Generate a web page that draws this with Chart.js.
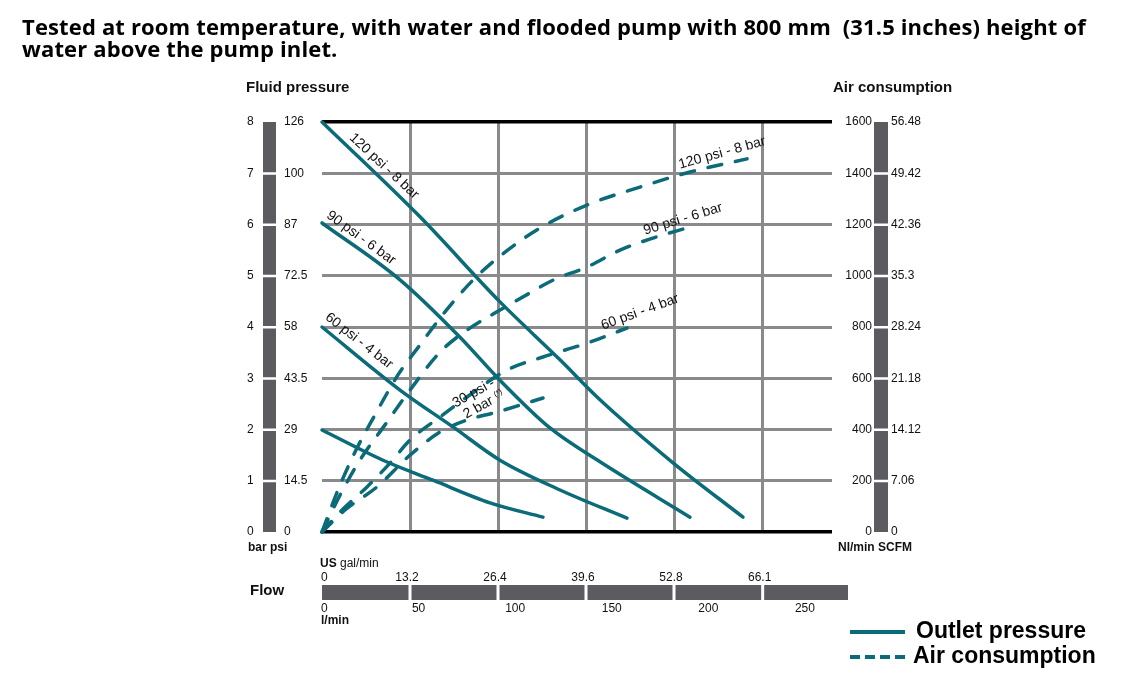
<!DOCTYPE html>
<html>
<head>
<meta charset="utf-8">
<script src="https://cdn.jsdelivr.net/npm/chart.js@4.4.1/dist/chart.umd.min.js"></script>
<style>
    body { margin: 0; background: #fff; }
    #wrap { position: relative; width: 1123px; height: 686px; }
    #titulo {
        position: absolute; left: 22px; top: 15px;
        font: bold 22px "Open Sans", sans-serif; line-height: 22px; letter-spacing: 0.15px; color: #000;
        white-space: nowrap;
    }
    canvas { position: absolute; left: 0; top: 0; }
</style>
</head>
<body>
<div id="wrap">
    <canvas id="chartBomba" width="1123" height="686"></canvas>
    <div id="titulo">Tested at room temperature, with water and flooded pump with 800 mm&nbsp; (31.5 inches) height of<br>water above the pump inlet.</div>
</div>
<script>
// eixos
const galTicks = [0, 13.2, 26.4, 39.6, 52.8, 66.1];
const lminTicks = [0, 50, 100, 150, 200, 250];
const barTicks = [0, 1, 2, 3, 4, 5, 6, 7, 8];
const psiTicks = ["0", "14.5", "29", "43.5", "58", "72.5", "87", "100", "126"];
const nlTicks = [0, 200, 400, 600, 800, 1000, 1200, 1400, 1600];
const scfmTicks = ["0", "7.06", "14.12", "21.18", "28.24", "35.3", "42.36", "49.42", "56.48"];

// pressao de saida (bar) x vazao (US gal/min)
const flow120 = [0, 14.7, 26.7, 35.7, 41.7, 52.65, 63.15];
const press120 = [8, 6.15, 4.49, 3.36, 2.58, 1.35, 0.29];
const flow90 = [0, 11.7, 20.7, 26.7, 34.2, 41.7, 55.2];
const press90 = [6.03, 4.92, 3.8, 2.96, 2.03, 1.37, 0.29];
const flow60 = [0, 11.7, 19.65, 26.7, 35.7, 45.75];
const press60 = [4.0, 2.77, 2.05, 1.4, 0.82, 0.27];
const flow30 = [0, 9.15, 16.65, 25.2, 33.15];
const press30 = [1.99, 1.4, 1.01, 0.57, 0.29];

// consumo de ar (Nl/min) x vazao
const airFlow120 = [0, 2.4, 4.95, 7.95, 11.4, 14.7, 18.45, 22.65, 27.45, 32.7, 39.75, 47.7, 55.2, 63.75];
const air120 = [0, 164, 312, 457, 613, 730, 859, 983, 1092, 1186, 1276, 1346, 1405, 1456];
const airFlow90 = [0, 2.7, 5.7, 9.45, 13.2, 17.7, 21.75, 26.7, 31.2, 34.65, 39.75, 44.7, 49.65, 55.2];
const air90 = [0, 144, 281, 418, 554, 702, 788, 866, 933, 983, 1034, 1100, 1147, 1190];
const airFlow60 = [0, 2.7, 6.75, 10.2, 13.2, 17.7, 21.75, 27.75, 33.15, 39.75, 45.75];
const air60 = [0, 78, 176, 269, 359, 449, 527, 632, 683, 737, 796];
const airFlow30 = [0, 3.45, 8.25, 13.2, 17.7, 21.75, 26.25, 33.15];
const air30 = [0, 86, 176, 300, 390, 437, 468, 523];

const teal = "#0b6b78";
const cinzaGrade = "#8a8a8d";
const cinzaBarra = "#5c5c60";
const fonte = "'Liberation Sans', Arial, sans-serif";

const pontos = (xs, ys) => xs.map((v, i) => ({ x: v, y: ys[i] }));

function serieSolida(xs, ys) {
    return {
        data: pontos(xs, ys),
        borderColor: teal,
        borderWidth: 3.5,
        pointRadius: 0,
        cubicInterpolationMode: "monotone",
        borderCapStyle: "round",
        yAxisID: "y",
        clip: false,
    };
}

function serieTracejada(xs, ys) {
    return {
        data: pontos(xs, ys),
        borderColor: teal,
        borderWidth: 3.5,
        borderDash: [14, 14],
        borderCapStyle: "round",
        pointRadius: 0,
        cubicInterpolationMode: "monotone",
        yAxisID: "y1",
        clip: false,
    };
}

// rotulos das curvas (posicao em unidades de dados)
const rotulos = [
    { texto: "120 psi - 8 bar", eixo: "y", x: 9.3, v: 7.14, ang: 43 },
    { texto: "90 psi - 6 bar", eixo: "y", x: 5.85, v: 5.74, ang: 36 },
    { texto: "60 psi - 4 bar", eixo: "y", x: 5.55, v: 3.73, ang: 38 },
    { texto: "120 psi - 8 bar", eixo: "y1", x: 60.0, v: 1479, ang: -15.5 },
    { texto: "90 psi - 6 bar", eixo: "y1", x: 54.15, v: 1221, ang: -17 },
    { texto: "60 psi - 4 bar", eixo: "y1", x: 47.7, v: 858, ang: -20 },
];

const decoracao = {
    id: "decoracao",
    afterDraw(chart) {
        const ctx = chart.ctx;
        const area = chart.chartArea;
        const { x, y, y1, xl } = chart.scales;
        ctx.save();
        ctx.fillStyle = "#111";

        // eixo esquerdo
        const barraE = area.left - 59;
        ctx.fillStyle = cinzaBarra;
        ctx.fillRect(barraE, area.top, 13, area.bottom - area.top);
        ctx.fillStyle = "#fff";
        barTicks.slice(1, -1).forEach((v) => {
            ctx.fillRect(barraE, y.getPixelForValue(v) - 1, 13, 2.5);
        });
        ctx.fillStyle = "#111";
        ctx.font = "12px " + fonte;
        ctx.textBaseline = "middle";
        ctx.textAlign = "left";
        barTicks.forEach((v, i) => {
            const py = y.getPixelForValue(v);
            ctx.fillText(String(v), area.left - 75, py);
            ctx.fillText(psiTicks[i], area.left - 38, py);
        });
        ctx.font = "bold 15px " + fonte;
        ctx.fillText("Fluid pressure", area.left - 76, 88);
        ctx.font = "bold 12px " + fonte;
        ctx.fillText("bar psi", area.left - 74, 548);

        // eixo direito
        const barraD = area.right + 42;
        ctx.fillStyle = cinzaBarra;
        ctx.fillRect(barraD, area.top, 14, area.bottom - area.top);
        ctx.fillStyle = "#fff";
        nlTicks.slice(1, -1).forEach((v) => {
            ctx.fillRect(barraD, y1.getPixelForValue(v) - 1, 14, 2.5);
        });
        ctx.fillStyle = "#111";
        ctx.font = "12px " + fonte;
        nlTicks.forEach((v, i) => {
            const py = y1.getPixelForValue(v);
            ctx.textAlign = "right";
            ctx.fillText(String(v), barraD - 2, py);
            ctx.textAlign = "left";
            ctx.fillText(scfmTicks[i], barraD + 17, py);
        });
        ctx.font = "bold 15px " + fonte;
        ctx.fillText("Air consumption", area.right + 1, 88);
        ctx.font = "bold 12px " + fonte;
        ctx.fillText("Nl/min SCFM", area.right + 6, 548);

        // barra de vazao
        const topoFlow = 585;
        const fimFlow = area.right + 16;
        ctx.fillStyle = cinzaBarra;
        ctx.fillRect(area.left, topoFlow, fimFlow - area.left, 15);
        ctx.fillStyle = "#fff";
        galTicks.slice(1).forEach((v) => {
            ctx.fillRect(x.getPixelForValue(v) - 1.5, topoFlow, 3, 15);
        });
        ctx.fillStyle = "#111";
        ctx.font = "12px " + fonte;
        galTicks.forEach((v, i) => {
            const px = x.getPixelForValue(v);
            ctx.textAlign = i === 0 ? "left" : "center";
            ctx.fillText(i === 0 ? "0" : v.toFixed(1), i === 0 ? px - 1 : px - 3, 578);
        });
        lminTicks.forEach((v, i) => {
            const px = xl.getPixelForValue(v);
            ctx.textAlign = i === 0 ? "left" : "center";
            ctx.fillText(String(v), i === 0 ? px - 1 : px, 609);
        });
        ctx.textAlign = "left";
        ctx.font = "bold 12px " + fonte;
        ctx.fillText("US", area.left - 2, 564);
        const largUS = ctx.measureText("US ").width;
        ctx.font = "12px " + fonte;
        ctx.fillText("gal/min", area.left - 2 + largUS, 564);
        ctx.font = "bold 12px " + fonte;
        ctx.fillText("l/min", area.left - 1, 621);
        ctx.font = "bold 15px " + fonte;
        ctx.fillText("Flow", area.left - 72, 591);

        // rotulos das curvas
        ctx.font = "14px " + fonte;
        ctx.textAlign = "center";
        rotulos.forEach((r) => {
            const px = x.getPixelForValue(r.x);
            const py = chart.scales[r.eixo].getPixelForValue(r.v);
            ctx.save();
            ctx.translate(px, py);
            ctx.rotate((r.ang * Math.PI) / 180);
            ctx.fillText(r.texto, 0, 0);
            ctx.restore();
        });
        // rotulo de 30 psi em duas linhas
        ctx.save();
        ctx.translate(x.getPixelForValue(23.4), y.getPixelForValue(2.6));
        ctx.rotate((-29 * Math.PI) / 180);
        ctx.textAlign = "left";
        ctx.fillText("30 psi -", -24, -7);
        ctx.fillText("2 bar", -20, 8);
        ctx.font = "8px " + fonte;
        ctx.fillText("(*)", 16, 5);
        ctx.restore();

        // legenda
        ctx.strokeStyle = teal;
        ctx.lineWidth = 4;
        ctx.beginPath();
        ctx.moveTo(850, 632);
        ctx.lineTo(905, 632);
        ctx.stroke();
        ctx.setLineDash([10, 5]);
        ctx.beginPath();
        ctx.moveTo(850, 657);
        ctx.lineTo(905, 657);
        ctx.stroke();
        ctx.setLineDash([]);
        ctx.font = "bold 23px " + fonte;
        ctx.textAlign = "left";
        ctx.fillStyle = "#000";
        ctx.fillText("Outlet pressure", 916, 632);
        ctx.fillText("Air consumption", 913, 657);
        ctx.restore();
    },
};

new Chart(document.getElementById("chartBomba").getContext("2d"), {
    type: "line",
    data: {
        datasets: [
            serieSolida(flow120, press120),
            serieSolida(flow90, press90),
            serieSolida(flow60, press60),
            serieSolida(flow30, press30),
            serieTracejada(airFlow120, air120),
            serieTracejada(airFlow90, air90),
            serieTracejada(airFlow60, air60),
            serieTracejada(airFlow30, air30),
        ],
    },
    options: {
        responsive: false,
        animation: false,
        layout: { padding: { left: 322, right: 291, top: 122, bottom: 154 } },
        plugins: {
            legend: { display: false },
            tooltip: { enabled: false },
        },
        scales: {
            x: {
                type: "linear",
                min: 0,
                max: 76.5,
                afterBuildTicks: (axis) => {
                    axis.ticks = galTicks.map((v) => ({ value: v }));
                },
                afterFit: (s) => { s.height = 0; },
                ticks: { display: false },
                border: { display: false },
                grid: {
                    drawTicks: false,
                    lineWidth: 3,
                    color: (c) => (c.tick && c.tick.value === 0 ? "rgba(0,0,0,0)" : cinzaGrade),
                },
            },
            xl: {
                type: "linear",
                axis: "x",
                position: "bottom",
                display: false,
                min: 0,
                max: 264,
            },
            y: {
                type: "linear",
                min: 0,
                max: 8,
                afterBuildTicks: (axis) => {
                    axis.ticks = barTicks.map((v) => ({ value: v }));
                },
                afterFit: (s) => { s.width = 0; },
                ticks: { display: false },
                border: { display: false },
                grid: {
                    drawTicks: false,
                    lineWidth: (c) => (c.tick && (c.tick.value === 0 || c.tick.value === 8) ? 3.5 : 3),
                    color: (c) => (c.tick && (c.tick.value === 0 || c.tick.value === 8) ? "#000" : cinzaGrade),
                },
            },
            y1: {
                type: "linear",
                position: "right",
                display: false,
                min: 0,
                max: 1600,
            },
        },
    },
    plugins: [decoracao],
});
</script>
</body>
</html>
